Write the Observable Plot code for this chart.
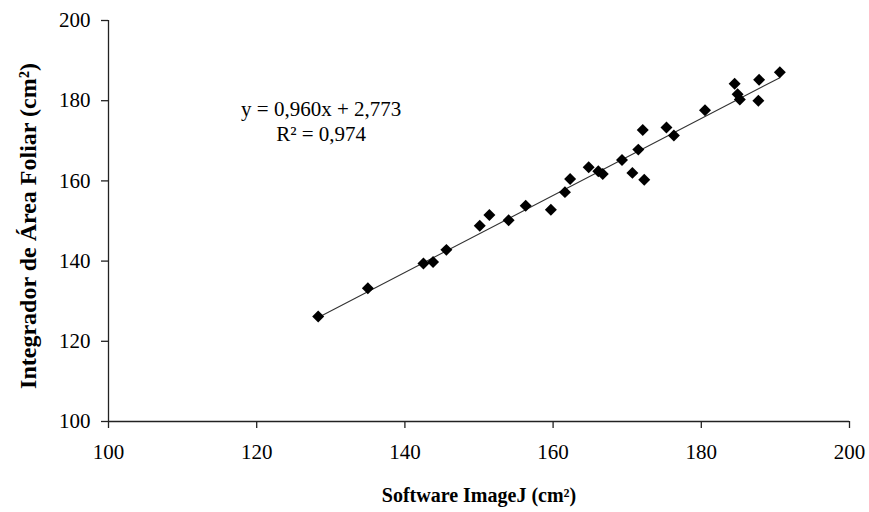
<!DOCTYPE html>
<html><head><meta charset="utf-8">
<script src="https://cdn.jsdelivr.net/npm/d3@7"></script>
<script src="https://cdn.jsdelivr.net/npm/@observablehq/plot@0.6"></script>
<style>body{margin:0;background:#fff} svg{font-family:"Liberation Serif",serif}</style>
</head><body><div id="chart"></div>
<script>
// Software ImageJ (cm²) values
const imageJ = [128.3, 135.0, 142.5, 143.8, 145.6, 150.1, 151.4, 154.0, 156.3, 159.7,
  161.6, 162.3, 164.8, 166.1, 166.7, 169.3, 170.7, 171.5, 172.1, 172.3,
  175.3, 176.3, 180.5, 184.5, 184.9, 185.2, 187.8, 187.7, 190.6];
// Integrador de Área Foliar (cm²) values
const integrador = [126.2, 133.2, 139.4, 139.8, 142.8, 148.8, 151.5, 150.2, 153.8, 152.8,
  157.2, 160.5, 163.4, 162.4, 161.7, 165.2, 162.0, 167.8, 172.7, 160.3,
  173.3, 171.3, 177.6, 184.2, 181.6, 180.3, 185.2, 180.0, 187.1];
const slope = 0.960, intercept = 2.773;
const xTicks = [100, 120, 140, 160, 180, 200];
const yTicks = [100, 120, 140, 160, 180, 200];
const equationLabel = ["y = 0,960x + 2,773\nR² = 0,974"];
const xLabel = ["Software ImageJ (cm²)"];
const yLabel = ["Integrador de Área Foliar (cm²)"];

const points = imageJ.map((x, i) => ({x, y: integrador[i]}));
const fit = [d3.min(imageJ), d3.max(imageJ)].map(x => ({x, y: slope * x + intercept}));

const chart = Plot.plot({
  width: 869, height: 512,
  marginLeft: 108, marginRight: 20, marginTop: 20, marginBottom: 91,
  style: {fontFamily: "'Liberation Serif', serif", fontSize: "21px", color: "#000", background: "#fff"},
  x: {domain: [100, 200], label: null},
  y: {domain: [100, 200], label: null},
  marks: [
    Plot.axisX({ticks: xTicks, tickSize: 7, tickPadding: 16, label: null, stroke: "#222", strokeWidth: 1.3, fontSize: 21}),
    Plot.axisY({ticks: yTicks, tickSize: 7, tickPadding: 11, label: null, stroke: "#222", strokeWidth: 1.3, fontSize: 21}),
    Plot.ruleX([100], {stroke: "#222", strokeWidth: 1.3}),
    Plot.ruleY([100], {stroke: "#222", strokeWidth: 1.3}),
    Plot.line(fit, {x: "x", y: "y", stroke: "#333", strokeWidth: 1.1}),
    Plot.dot(points, {x: "x", y: "y", symbol: "diamond2", r: 5.4, fill: "#000", stroke: "none"}),
    Plot.text(equationLabel, {x: 128.7, y: 175.0, text: d => d, fontSize: 21, lineHeight: 1.2, fill: "#000"}),
    Plot.text(xLabel, {frameAnchor: "bottom", dy: 80, text: d => d, fontSize: 20, fontWeight: "bold", fill: "#000"}),
    Plot.text(yLabel, {frameAnchor: "left", textAnchor: "middle", dx: -80, dy: 5, rotate: -90, text: d => d, fontSize: 24, fontWeight: "bold", fill: "#000"})
  ]
});
document.getElementById("chart").appendChild(chart);
</script>
</body></html>
